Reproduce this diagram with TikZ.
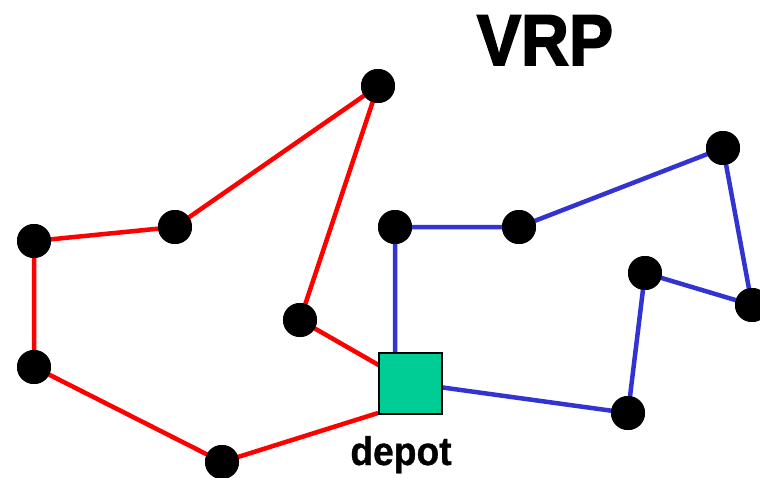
\documentclass[tikz,border=0pt]{standalone}
\usepackage{fontspec}
\setmainfont{Liberation Sans}
\newfontfamily\heavyfont[FakeBold=2.5]{Liberation Sans Bold}
\newfontfamily\labelfont[FakeBold=0.8]{Liberation Sans Bold}
\definecolor{routered}{RGB}{255,0,0}
\definecolor{routeblue}{RGB}{51,51,210}
\definecolor{depotgreen}{RGB}{0,204,150}
\begin{document}
\begin{tikzpicture}[x=1pt,y=-1pt,
  customer/.style={circle,fill=black,inner sep=0pt,minimum size=34pt},
  depotbox/.style={draw=black,line width=2pt,fill=depotgreen,inner sep=0pt,minimum width=63pt,minimum height=61pt},
  redroute/.style={draw=routered,line width=4.5pt},
  blueroute/.style={draw=routeblue,line width=4.5pt}]
\useasboundingbox (0,0) rectangle (760,477);
\clip (0,0) rectangle (760,477);
% depot position first, connectors are drawn before the node itself
\coordinate (dc) at (410,383);
% red tour
\node[customer] (a) at (378,86) {};
\node[customer] (b) at (175,227) {};
\node[customer] (c) at (34,241) {};
\node[customer] (d) at (34,367) {};
\node[customer] (e) at (222,462) {};
\node[customer] (f) at (300,320) {};
% blue tour
\node[customer] (g) at (395,227) {};
\node[customer] (h) at (519,227) {};
\node[customer] (i) at (723,148) {};
\node[customer] (j) at (752,305) {};
\node[customer] (k) at (645,273) {};
\node[customer] (l) at (628,413) {};
% routes
\path[redroute] (dc) -- (f.center) -- (a.center) -- (b.center) -- (c.center) -- (d.center) -- (e.center) -- (378,413);
\path[blueroute] (g.center |- dc) -- (g.center) -- (h.center) -- (i.center) -- (j.center) -- (k.center) -- (l.center) -- (dc);
% redraw customers on top of the routes
\foreach \n in {a,b,c,d,e,f,g,h,i,j,k,l}
  \fill (\n) circle (17pt);
\node[depotbox] (depot) at (dc) {};
\node[anchor=base,inner sep=0pt,xscale=0.93,font=\labelfont\fontsize{40}{40}\selectfont] (lbl) at (401,465) {depot};
\node[anchor=base,inner sep=0pt,xscale=0.92,font=\heavyfont\fontsize{72}{72}\selectfont] (title) at (545,65) {VRP};
\end{tikzpicture}
\end{document}
